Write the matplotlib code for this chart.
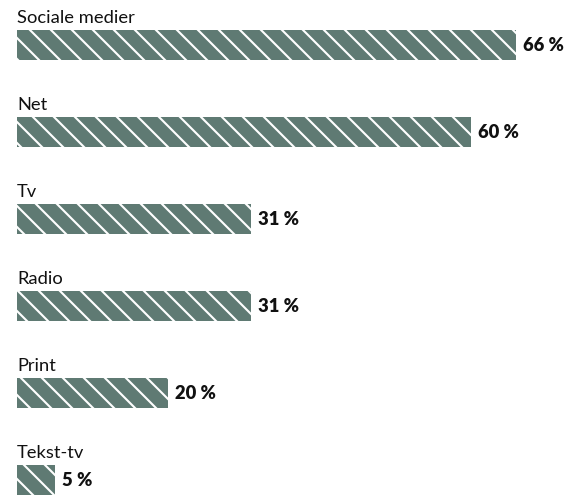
import matplotlib.pyplot as plt

plt.rcParams['font.family'] = ['Lato', 'DejaVu Sans']
plt.rcParams['hatch.color'] = 'white'
plt.rcParams['hatch.linewidth'] = 1.2

kategorier = ['Sociale medier', 'Net', 'Tv', 'Radio', 'Print', 'Tekst-tv']
andele = [66, 60, 31, 31, 20, 5]

dpi = 126
fig = plt.figure(figsize=(569 / dpi, 500 / dpi), dpi=dpi)
ax = fig.add_axes([17 / 569, 0, 552 / 569, 1])

pos = list(range(len(kategorier)))
h = 0.345
ax.barh(pos, andele, height=h, color='#5f7a73', hatch='\\\\', linewidth=0)

for i, (navn, v) in enumerate(zip(kategorier, andele)):
    ax.annotate(navn, (0, i - h / 2), xytext=(0, 4), textcoords='offset points',
                ha='left', va='baseline', fontsize=10.5, color='#111111')
    ax.annotate(f'{v} %', (v, i), xytext=(4, -0.5), textcoords='offset points',
                ha='left', va='center', fontsize=10.5, fontweight='heavy', color='#111111')

ax.set_xlim(0, 73)
ax.set_ylim(5 + 20 / 87, -45 / 87)
ax.axis('off')

fig.savefig('out.png', dpi=dpi, facecolor='white')
